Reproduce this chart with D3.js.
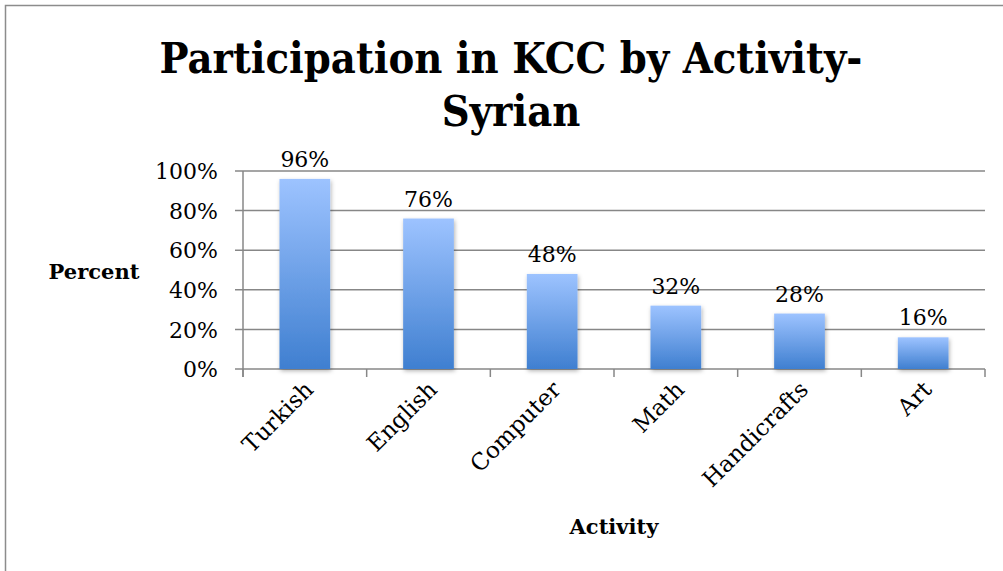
<!DOCTYPE html>
<html><head><meta charset="utf-8">
<script src="https://cdn.jsdelivr.net/npm/d3@7/dist/d3.min.js"></script>
<style>body{margin:0;background:#fff}svg{display:block}</style>
</head><body><svg id="c" width="1003" height="571"></svg>
<script>
const categories = ["Turkish","English","Computer","Math","Handicrafts","Art"];
const values = [0.96,0.76,0.48,0.32,0.28,0.16];
const yTicks = [0,0.2,0.4,0.6,0.8,1.0];
const titleLines = ["Participation in KCC by Activity-","Syrian"];

const svg = d3.select("#c");
const W=1003,H=571;
const m={left:243,right:985,top:171,bottom:369};
const serif = "'DejaVu Serif', serif";

// frame
svg.append("path").attr("d",`M5.5,${H} V5.5 H${W}`).attr("fill","none").attr("stroke","#8c8c8c").attr("stroke-width",1.5);

const defs = svg.append("defs");
const g = defs.append("linearGradient").attr("id","bg").attr("x1",0).attr("y1",0).attr("x2",0).attr("y2",1);
g.append("stop").attr("offset","0%").attr("stop-color","#9dc3ff");
g.append("stop").attr("offset","100%").attr("stop-color","#3f7fd0");
const f = defs.append("filter").attr("id","sh").attr("x","-20%").attr("y","-20%").attr("width","150%").attr("height","150%");
f.append("feDropShadow").attr("dx",1).attr("dy",2).attr("stdDeviation",2).attr("flood-color","#000").attr("flood-opacity",0.3);

const x = d3.scaleBand().domain(categories).range([m.left,m.right]).paddingInner(0.59).paddingOuter(0.295);
const y = d3.scaleLinear().domain([0,1]).range([m.bottom,m.top]);

// gridlines
svg.append("g").selectAll("line").data(yTicks).join("line")
  .attr("x1",m.left-8).attr("x2",m.right).attr("y1",d=>y(d)).attr("y2",d=>y(d))
  .attr("stroke","#878787").attr("stroke-width",1.5);

// y axis line
svg.append("line").attr("x1",m.left).attr("x2",m.left).attr("y1",m.top).attr("y2",m.bottom+8).attr("stroke","#878787").attr("stroke-width",1.5);

// x ticks
const xb = d3.scaleLinear().domain([0,categories.length]).range([m.left,m.right]);
svg.append("g").selectAll("line").data(d3.range(categories.length+1)).join("line")
  .attr("x1",d=>xb(d)).attr("x2",d=>xb(d)).attr("y1",m.bottom).attr("y2",m.bottom+8)
  .attr("stroke","#878787").attr("stroke-width",1.5);

// bars
svg.append("g").selectAll("rect").data(values).join("rect")
  .attr("x",(d,i)=>x(categories[i])).attr("width",x.bandwidth())
  .attr("y",d=>y(d)).attr("height",d=>y(0)-y(d))
  .attr("fill","url(#bg)").attr("filter","url(#sh)");

// value labels
svg.append("g").selectAll("text").data(values).join("text")
  .attr("x",(d,i)=>x(categories[i])+x.bandwidth()/2).attr("y",d=>y(d)-12)
  .attr("text-anchor","middle").attr("font-family",serif).attr("font-size",22).attr("fill","#000")
  .text(d=>Math.round(d*100)+"%");

// y tick labels
svg.append("g").selectAll("text").data(yTicks).join("text")
  .attr("x",218).attr("y",d=>y(d)).attr("dy","0.37em")
  .attr("text-anchor","end").attr("font-family",serif).attr("font-size",22).attr("fill","#000")
  .text(d=>Math.round(d*100)+"%");

// x tick labels
svg.append("g").selectAll("text").data(categories).join("text")
  .attr("transform",d=>`translate(${x(d)+x.bandwidth()/2+10},${m.bottom+22}) rotate(-45)`)
  .attr("text-anchor","end").attr("font-family",serif).attr("font-size",23).attr("fill","#000")
  .text(d=>d);

// axis titles
svg.append("text").attr("x",94).attr("y",279).attr("text-anchor","middle")
  .attr("font-family",serif).attr("font-weight","bold").attr("font-size",21).text("Percent");
svg.append("text").attr("x",614).attr("y",534).attr("text-anchor","middle")
  .attr("font-family",serif).attr("font-weight","bold").attr("font-size",21).text("Activity");

// title
svg.append("g").selectAll("text").data(titleLines).join("text")
  .attr("x",511).attr("y",(d,i)=>73+i*53).attr("text-anchor","middle")
  .attr("font-family","'DejaVu Serif Condensed','DejaVu Serif',serif").attr("font-weight","bold")
  .attr("font-size",43).attr("fill","#000").text(d=>d);
</script></body></html>
